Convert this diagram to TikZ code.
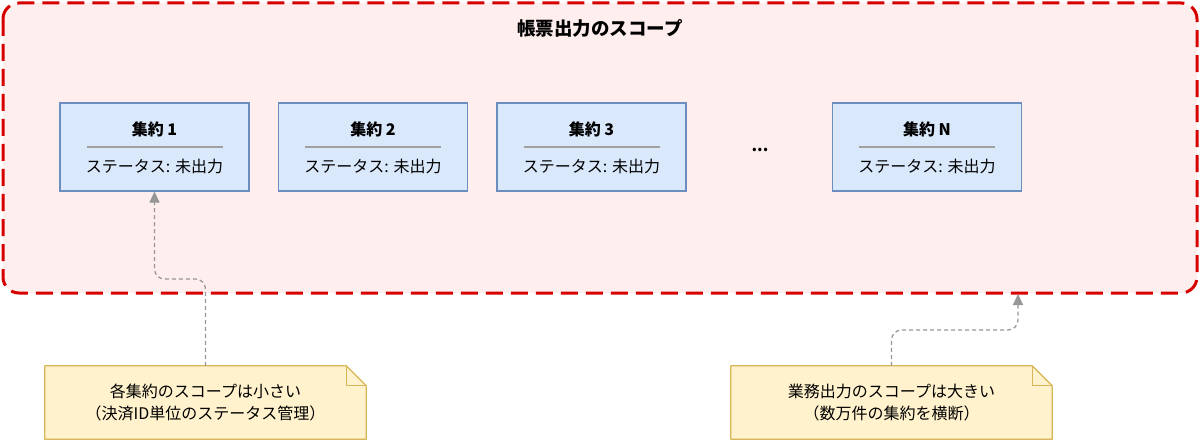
\documentclass[tikz,border=0pt]{standalone}
\usepackage{fontspec}
\setmainfont{Noto Sans CJK JP}
\usetikzlibrary{arrows.meta,backgrounds}
\definecolor{scopefill}{RGB}{255,238,238}
\definecolor{scopedraw}{RGB}{215,0,0}
\definecolor{boxfill}{RGB}{218,232,252}
\definecolor{boxdraw}{RGB}{108,142,191}
\definecolor{notefill}{RGB}{255,242,204}
\definecolor{notedraw}{RGB}{214,182,86}
\definecolor{conncol}{RGB}{150,150,150}
\definecolor{sepcol}{RGB}{160,160,160}
\tikzset{
  scopebox/.style={draw=scopedraw, fill=scopefill, line width=3pt, dash pattern=on 17pt off 8pt, rounded corners=16pt},
  aggbox/.style={draw=boxdraw, fill=boxfill, line width=1.2pt, minimum width=189pt, minimum height=88pt, inner sep=0pt},
  aggtitle/.style={font=\fontsize{16}{19}\selectfont\bfseries},
  aggstatus/.style={font=\fontsize{16}{19}\selectfont},
  sepline/.style={draw=sepcol, line width=1.2pt},
  notetext/.style={font=\fontsize{16}{22}\selectfont, align=center, minimum width=321pt, minimum height=73pt, inner sep=0pt},
  noteshape/.style={draw=notedraw, fill=notefill, line width=1.2pt, line join=round},
  conn/.style={draw=conncol, line width=1.2pt, dash pattern=on 4pt off 3pt, rounded corners=10pt, -{Triangle[width=10pt,length=11pt]}},
}
\begin{document}
\begin{tikzpicture}[x=1pt,y=-1pt]
\useasboundingbox (0,0) rectangle (1200,441);
% scope
\draw[scopebox] (3,3) rectangle (1197,293);
\node[font=\fontsize{18.5}{22}\selectfont\bfseries] (title) at (600,28) {帳票出力のスコープ};
% aggregate boxes
\foreach \nm/\cx/\lab in {b1/154.5/集約 1, b2/373/集約 2, b3/591.5/集約 3, bn/927/集約 N}{
  \node[aggbox] (\nm) at (\cx,147) {};
  \node[aggtitle] (\nm t) at (\cx,129) {\lab};
  \draw[sepline] ([xshift=-68pt]\nm.center) -- ([xshift=68pt]\nm.center);
  \node[aggstatus] (\nm s) at (\cx,166) {ステータス: 未出力};
}
\node[font=\fontsize{16}{19}\selectfont\bfseries] (dots) at (760,150) {...};
% notes
\node[notetext] (n1) at (205.5,402.5) {各集約のスコープは小さい\\（決済ID単位のステータス管理）};
\node[notetext] (n2) at (891.5,402.5) {業務出力のスコープは大きい\\（数万件の集約を横断）};
\begin{scope}[on background layer]
\foreach \n in {n1,n2}{
  \path[noteshape] (\n.north west) -- ([xshift=-20pt]\n.north east) -- ([yshift=-20pt]\n.north east) -- (\n.south east) -- (\n.south west) -- cycle;
  \draw[notedraw, line width=1.2pt, line join=round] ([xshift=-20pt]\n.north east) -- ([xshift=-20pt,yshift=-20pt]\n.north east) -- ([yshift=-20pt]\n.north east);
}
\end{scope}
% connectors
\coordinate (c1) at (205.5,279);
\draw[conn] (n1.north) -- (c1) -| (b1.south);
\coordinate (c2) at (1018,330);
\coordinate (e2) at (1018,294);
\draw[conn] (n2.north) |- (c2) -- (e2);
\end{tikzpicture}
\end{document}
